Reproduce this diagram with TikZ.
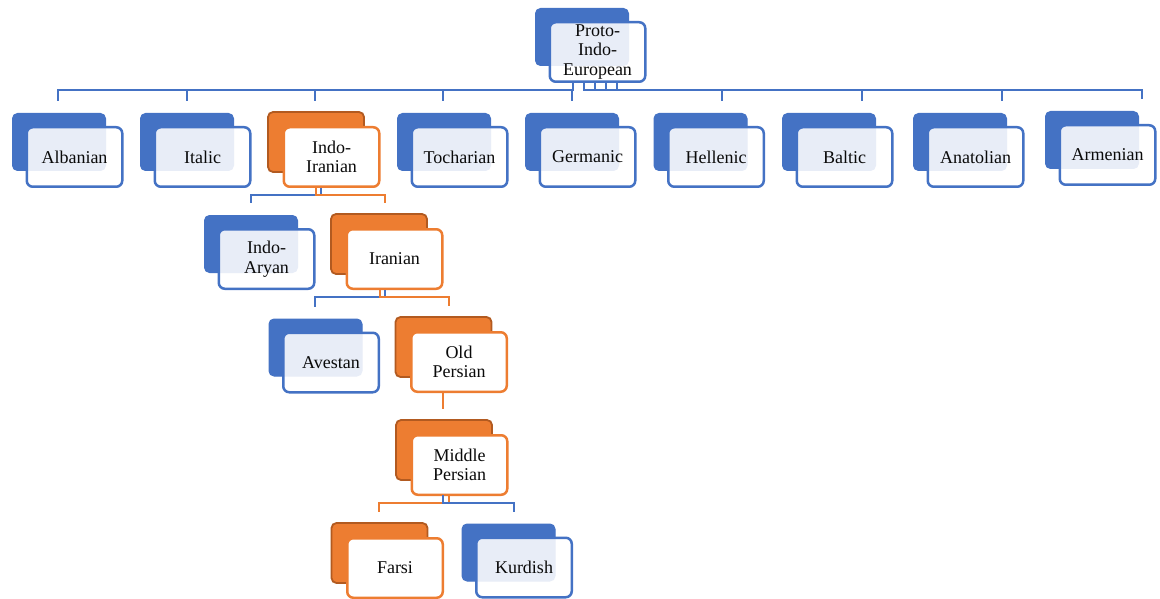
\documentclass[tikz,border=0pt]{standalone}
\usepackage{fontspec}
\setmainfont{Liberation Serif}
\usetikzlibrary{calc}
\definecolor{bblue}{HTML}{4472C4}
\definecolor{borange}{HTML}{ED7D31}
\definecolor{dorange}{HTML}{B25A20}
\definecolor{txt}{HTML}{0A0A0A}
\tikzset{
  bback/.style={draw=bblue, fill=bblue, line width=1pt, rounded corners=5pt,
    minimum width=93pt, minimum height=57pt, inner sep=0pt},
  oback/.style={draw=dorange, fill=borange, line width=1.8pt, rounded corners=5pt,
    minimum width=96pt, minimum height=60pt, inner sep=0pt},
  bfront/.style={draw=bblue, fill=white, fill opacity=0.88, text opacity=1, line width=2.5pt,
    rounded corners=6pt, minimum width=95.5pt, minimum height=59.5pt, inner sep=0pt,
    align=center, text=txt, font=\fontsize{18}{19.5}\selectfont},
  ofront/.style={draw=borange, fill=white, line width=2.5pt,
    rounded corners=6pt, minimum width=95.5pt, minimum height=59.5pt, inner sep=0pt,
    align=center, text=txt, font=\fontsize{18}{19.5}\selectfont},
  bline/.style={draw=bblue, line width=2.5pt},
  oline/.style={draw=borange, line width=2.5pt}
}
\newcommand\famnode[6]{%
  \node[#2back] (#1b) at (#3,#4) {};
  \node[#2front] (#1) at ($(#1b)+(15.5,15)$) {#5};
  \coordinate (#1T) at (#6,\fpeval{#4-29-12});
}
\begin{document}
\begin{tikzpicture}[x=1pt,y=-1pt]
\useasboundingbox (0,0) rectangle (1160,599);
% nodes
\famnode{pie}{b}{582}{37}{Proto-\\Indo-\\European}{582}
\famnode{alb}{b}{59}{142}{Albanian}{58}
\famnode{ita}{b}{187}{142}{Italic}{187}
\famnode{ii}{o}{316}{142}{Indo-\\Iranian}{315}
\famnode{toc}{b}{444}{142}{Tocharian}{443}
\famnode{ger}{b}{572}{142}{Germanic}{572}
\famnode{hel}{b}{700.5}{142}{Hellenic}{722}
\famnode{bal}{b}{829}{142}{Baltic}{862}
\famnode{ana}{b}{960}{142}{Anatolian}{1002}
\famnode{arm}{b}{1092}{140}{Armenian}{1142}
\famnode{ia}{b}{251}{244}{Indo-\\Aryan}{251}
\famnode{ir}{o}{379}{244}{Iranian}{385}
\famnode{ave}{b}{315.5}{347.5}{Avestan}{315}
\famnode{op}{o}{443.5}{347}{Old\\Persian}{449}
\famnode{mp}{o}{444}{450}{Middle\\Persian}{443}
\famnode{far}{o}{379.5}{553}{Farsi}{379}
\famnode{kur}{b}{508.5}{552.5}{Kurdish}{514}
% connectors from Proto-Indo-European
\coordinate (pieA) at (573,83);
\coordinate (pieB) at (584,83);
\coordinate (pieC) at (595,83);
\coordinate (pieD) at (606,83);
\coordinate (pieE) at (617,83);
\draw[bline] (pieA) -- ++(0,7) -| (albT);
\draw[bline] (pieA) -- ++(0,7) -| (itaT);
\draw[bline] (pieA) -- ++(0,7) -| (iiT);
\draw[bline] (pieA) -- ++(0,7) -| (tocT);
\draw[bline] (pieA) -- ++(0,7) -| (gerT);
\draw[bline] (pieB) -- ++(0,7) -| (helT);
\draw[bline] (pieC) -- ++(0,7) -| (balT);
\draw[bline] (pieD) -- ++(0,7) -| (anaT);
\draw[bline] (pieE) -- ++(0,7) -| (armT);
% Indo-Iranian
\coordinate (iiA) at (321,188);
\coordinate (iiB) at (316,188);
\draw[bline] (iiA) -- ++(0,7) -| (iaT);
\draw[oline] (iiB) -- ++(0,7) -| (irT);
% Iranian
\coordinate (irA) at (385,290);
\coordinate (irB) at (380,290);
\draw[bline] (irA) -- ++(0,7) -| (aveT);
\draw[oline] (irB) -- ++(0,7) -| (opT);
% Old Persian -> Middle Persian
\coordinate (opA) at (443,393);
\draw[oline] (opA) -- (mpT);
% Middle Persian
\coordinate (mpA) at (449,495);
\coordinate (mpB) at (443,495);
\draw[oline] (mpA) -- ++(0,8) -| (farT);
\draw[bline] (mpB) -- ++(0,8) -| (kurT);
\end{tikzpicture}
\end{document}
